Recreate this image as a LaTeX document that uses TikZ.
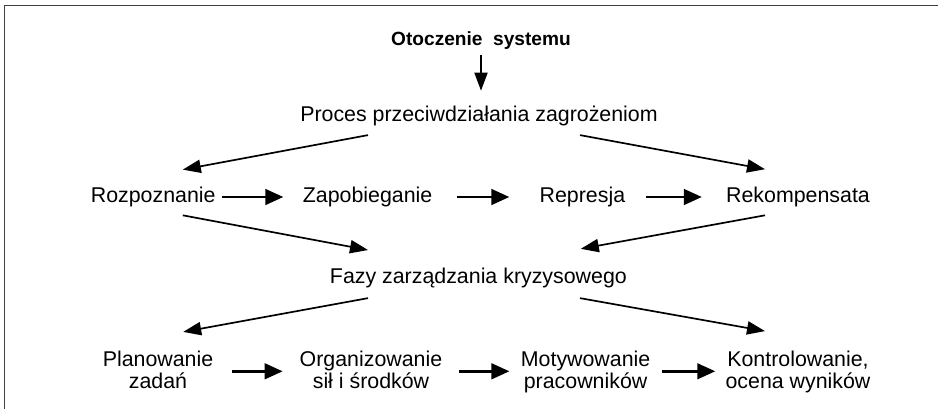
\documentclass[tikz,border=0pt]{standalone}
\usepackage{fontspec}
\setmainfont{Liberation Sans}
\usepackage{tikz}
\usetikzlibrary{positioning,arrows.meta,calc}

\begin{document}
\begin{tikzpicture}[
  font=\fontsize{15.2pt}{15.6pt}\selectfont,
  txt/.style   ={inner sep=0pt, anchor=base, align=center},
  twoline/.style={txt, text depth=0.1cm},
  head/.style  ={inner sep=0pt, anchor=base, font=\fontsize{13.6pt}{15pt}\selectfont\bfseries},
  hflow/.style ={-{Triangle[length=0.45cm,width=0.39cm]}, line width=1.9pt},
  dflow/.style ={-{Triangle[length=0.45cm,width=0.33cm]}, line width=1.2pt},
  vflow/.style ={-{Triangle[length=0.45cm,width=0.33cm]}, line width=0.9pt},
  edgeline/.style={draw=black!75, line width=1.4pt},
]
\useasboundingbox (0,0) rectangle (23.45,-10.225);
% frame
\draw[edgeline] (0.1125,-10.3) -- (0.1125,-0.1375) -- (23.5,-0.1375);
% top
\node[head] (env)  at (12.025,-1.15) {Otoczenie\ \ systemu};
\node[txt]  (proc) at (11.975,-3.05) {Proces przeciwdziałania zagrożeniom};
% phases of counteraction
\node[txt] (rozp)   at (3.83,-5.075)  {Rozpoznanie};
\node[txt] (zapob)  at (9.19,-5.075)  {Zapobieganie};
\node[txt] (repr)   at (14.56,-5.075) {Represja};
\node[txt] (rekomp) at (19.95,-5.075) {Rekompensata};
% crisis management
\node[txt] (fazy) at (11.96,-7.075) {Fazy zarządzania kryzysowego};
\node[twoline] (plan)  at (3.95,-9.7)   {Planowanie\\zadań};
\node[twoline] (org)   at (9.275,-9.7)  {Organizowanie\\sił i środków};
\node[twoline] (motyw) at (14.64,-9.7)  {Motywowanie\\pracowników};
\node[twoline] (kontr) at (19.95,-9.7)  {Kontrolowanie,\\ocena wyników};
% arrows
\draw[vflow, shorten <=0.13cm, shorten >=0.39cm] (env.south) -- (env.south |- proc.north);
\draw[dflow] ([xshift=-2.775cm,yshift=-0.21cm]proc.south) -- ([xshift=0.74cm,yshift=0.44cm]rozp.north);
\draw[dflow] ([xshift=2.525cm,yshift=-0.21cm]proc.south) -- ([xshift=-0.825cm,yshift=0.45cm]rekomp.north);
\draw[hflow] ([xshift=0.15cm,yshift=0.15cm]rozp.base east) -- ([xshift=-0.48cm,yshift=0.15cm]zapob.base west);
\draw[hflow] ([xshift=0.62cm,yshift=0.15cm]zapob.base east) -- ([xshift=-0.75cm,yshift=0.15cm]repr.base west);
\draw[hflow] ([xshift=0.52cm,yshift=0.15cm]repr.base east) -- ([xshift=-0.6cm,yshift=0.15cm]rekomp.base west);
\draw[dflow] ([xshift=0.74cm,yshift=-0.19cm]rozp.south) -- ([xshift=-2.76cm,yshift=0.43cm]fazy.north);
\draw[dflow] ([xshift=-0.825cm,yshift=-0.19cm]rekomp.south) -- ([xshift=2.56cm,yshift=0.46cm]fazy.north);
\draw[dflow] ([xshift=-2.76cm,yshift=-0.26cm]fazy.south) -- ([xshift=0.63cm,yshift=0.46cm]plan.north);
\draw[dflow] ([xshift=2.54cm,yshift=-0.26cm]fazy.south) -- ([xshift=-0.825cm,yshift=0.48cm]kontr.north);
\draw[hflow] ([xshift=0.45cm]plan.east)  -- ([xshift=-0.42cm]org.west);
\draw[hflow] ([xshift=0.42cm]org.east)   -- ([xshift=-0.28cm]motyw.west);
\draw[hflow] ([xshift=0.28cm]motyw.east) -- ([xshift=-0.25cm]kontr.west);
\end{tikzpicture}
\end{document}
